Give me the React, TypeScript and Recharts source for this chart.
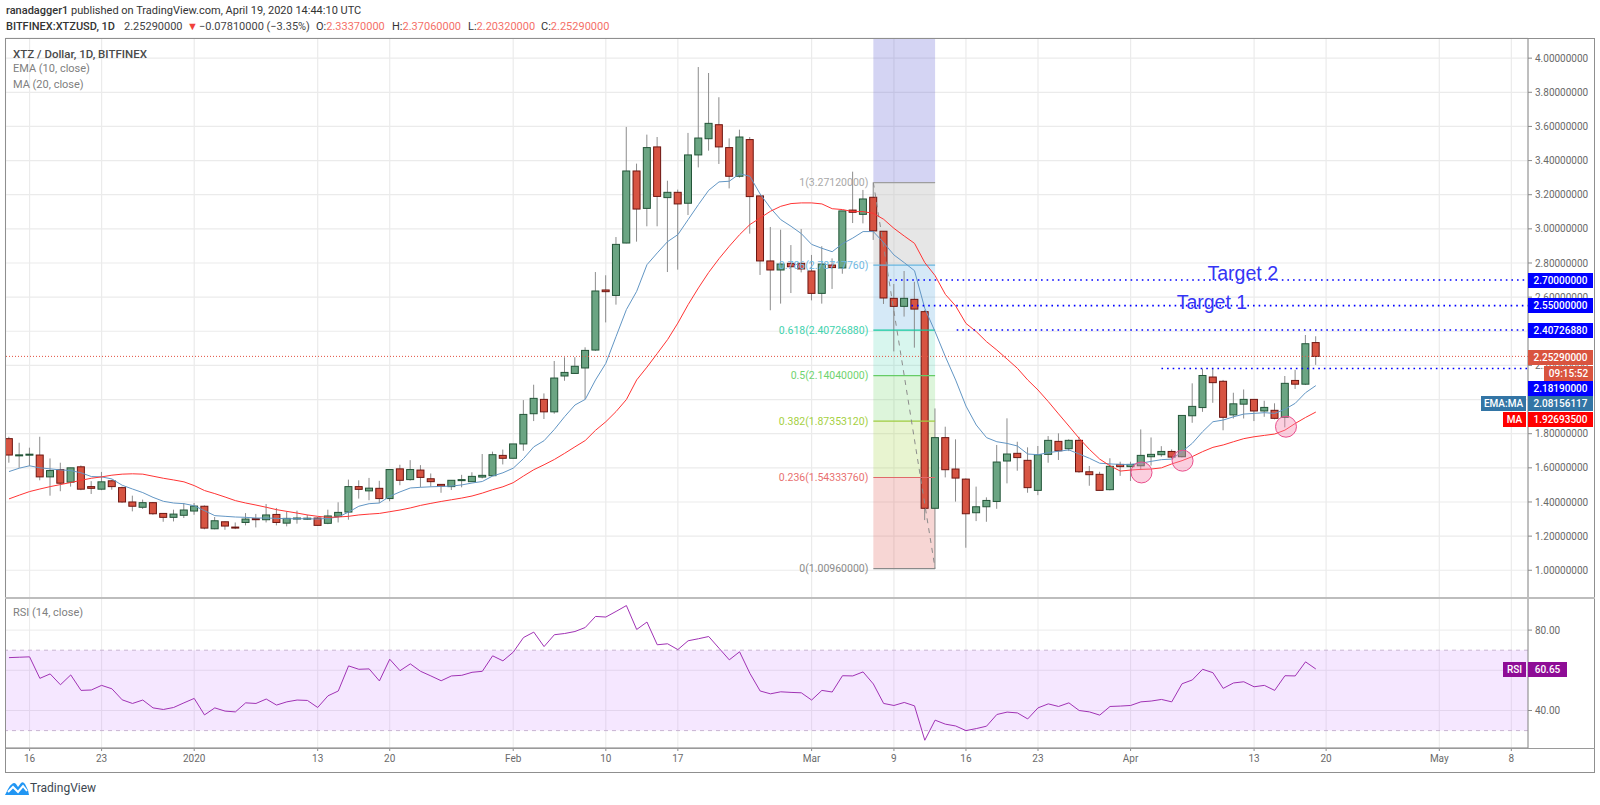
import {
  ComposedChart,
  Bar,
  Line,
  XAxis,
  YAxis,
  CartesianGrid,
  ReferenceArea,
  ReferenceLine,
  ReferenceDot,
} from "recharts";

// day 0 is Dec 16, 2019; one entry per daily candle starting on Dec 14
const FIRST_DAY = -2;
const opens = [
  1.771, 1.675, 1.676, 1.675, 1.547, 1.59, 1.516, 1.606, 1.49, 1.475, 1.524, 1.484, 1.4, 1.369, 1.396, 1.333,
  1.31, 1.322, 1.347, 1.375, 1.243, 1.284, 1.253, 1.28, 1.302, 1.296, 1.327, 1.276, 1.302, 1.304, 1.306, 1.275,
  1.316, 1.341, 1.49, 1.465, 1.48, 1.42, 1.594, 1.531, 1.587, 1.536, 1.503, 1.49, 1.525, 1.519, 1.546, 1.554,
  1.673, 1.656, 1.74, 1.917, 2.001, 1.928, 2.138, 2.153, 2.185, 2.29, 2.642, 2.61, 2.917, 3.339, 3.12, 3.48,
  3.183, 3.214, 3.15, 3.433, 3.528, 3.61, 3.476, 3.308, 3.523, 3.193, 2.812, 2.759, 2.798, 2.798, 2.753, 2.622,
  2.788, 2.771, 3.11, 3.085, 3.185, 2.986, 2.593, 2.546, 2.587, 2.515, 1.363, 1.777, 1.593, 1.534, 1.337, 1.372,
  1.403, 1.64, 1.685, 1.644, 1.468, 1.679, 1.755, 1.712, 1.761, 1.577, 1.562, 1.472, 1.62, 1.607, 1.612, 1.665,
  1.677, 1.696, 1.665, 1.905, 1.953, 2.132, 2.107, 1.91, 1.973, 2.001, 1.933, 1.937, 1.896, 2.112, 2.09, 2.3337,
];
const highs = [
  1.782, 1.747, 1.718, 1.782, 1.655, 1.63, 1.6, 1.614, 1.522, 1.576, 1.53, 1.49, 1.437, 1.414, 1.4, 1.335,
  1.355, 1.394, 1.394, 1.38, 1.312, 1.286, 1.28, 1.335, 1.33, 1.388, 1.365, 1.345, 1.349, 1.325, 1.31, 1.355,
  1.398, 1.531, 1.527, 1.541, 1.524, 1.59, 1.618, 1.645, 1.616, 1.567, 1.505, 1.527, 1.559, 1.574, 1.681, 1.695,
  1.707, 1.74, 1.997, 2.087, 2.036, 2.226, 2.248, 2.248, 2.306, 2.747, 2.728, 2.952, 3.597, 3.382, 3.552, 3.538,
  3.282, 3.23, 3.562, 3.948, 3.913, 3.771, 3.53, 3.581, 3.538, 3.193, 3.011, 2.995, 2.905, 2.999, 2.847, 2.898,
  2.827, 3.105, 3.335, 3.228, 3.2712, 2.986, 2.677, 2.753, 2.69, 2.525, 1.948, 1.841, 1.767, 1.538, 1.49, 1.427,
  1.734, 1.89, 1.753, 1.72, 1.728, 1.786, 1.802, 1.767, 1.782, 1.611, 1.577, 1.656, 1.636, 1.636, 1.825, 1.778,
  1.727, 1.708, 1.907, 2.095, 2.18, 2.18, 2.115, 2.04, 2.059, 2.001, 1.993, 1.978, 2.138, 2.174, 2.378, 2.3706,
];
const lows = [
  1.63, 1.6, 1.61, 1.527, 1.437, 1.463, 1.49, 1.469, 1.447, 1.469, 1.472, 1.395, 1.345, 1.359, 1.325, 1.284,
  1.286, 1.306, 1.325, 1.24, 1.24, 1.237, 1.241, 1.263, 1.251, 1.28, 1.263, 1.257, 1.273, 1.296, 1.262, 1.27,
  1.28, 1.296, 1.42, 1.41, 1.394, 1.404, 1.498, 1.525, 1.486, 1.49, 1.454, 1.47, 1.486, 1.519, 1.538, 1.552,
  1.62, 1.656, 1.7, 1.874, 1.886, 1.917, 2.11, 2.15, 2.001, 2.285, 2.452, 2.556, 2.915, 2.925, 3.015, 3.015,
  2.747, 2.761, 3.081, 3.36, 3.458, 3.38, 3.237, 3.3, 2.972, 2.73, 2.523, 2.562, 2.624, 2.745, 2.581, 2.562,
  2.648, 2.737, 3.034, 3.032, 2.935, 2.56, 2.282, 2.486, 2.304, 1.294, 1.0096, 1.544, 1.402, 1.132, 1.288, 1.284,
  1.36, 1.509, 1.583, 1.454, 1.44, 1.63, 1.646, 1.698, 1.571, 1.495, 1.468, 1.468, 1.553, 1.523, 1.587, 1.613,
  1.665, 1.654, 1.661, 1.864, 1.928, 1.981, 1.82, 1.889, 1.889, 1.874, 1.899, 1.884, 1.837, 2.062, 2.085, 2.2032,
];
const closes = [
  1.675, 1.676, 1.68, 1.547, 1.584, 1.51, 1.6, 1.475, 1.48, 1.518, 1.49, 1.4, 1.375, 1.396, 1.331, 1.31,
  1.329, 1.353, 1.376, 1.247, 1.29, 1.259, 1.252, 1.3, 1.298, 1.324, 1.28, 1.304, 1.306, 1.305, 1.263, 1.318,
  1.339, 1.49, 1.474, 1.481, 1.42, 1.59, 1.527, 1.59, 1.544, 1.519, 1.493, 1.527, 1.531, 1.55, 1.556, 1.677,
  1.656, 1.74, 1.913, 2.007, 1.928, 2.126, 2.159, 2.195, 2.288, 2.636, 2.632, 2.909, 3.339, 3.116, 3.476, 3.19,
  3.214, 3.146, 3.433, 3.532, 3.618, 3.48, 3.308, 3.538, 3.189, 2.812, 2.759, 2.794, 2.778, 2.765, 2.622, 2.794,
  2.773, 3.105, 3.097, 3.175, 2.988, 2.595, 2.546, 2.593, 2.53, 1.363, 1.777, 1.589, 1.54, 1.331, 1.372, 1.409,
  1.634, 1.681, 1.66, 1.484, 1.677, 1.761, 1.7, 1.761, 1.577, 1.56, 1.468, 1.609, 1.607, 1.62, 1.673, 1.679,
  1.696, 1.663, 1.907, 1.96, 2.141, 2.099, 1.896, 1.975, 2.001, 1.933, 1.954, 1.89, 2.095, 2.09, 2.327, 2.2529,
];
const ema10 = [
  1.578, 1.598, 1.612, 1.6, 1.594, 1.588, 1.584, 1.571, 1.549, 1.547, 1.535, 1.498, 1.476, 1.455, 1.427, 1.404,
  1.394, 1.39, 1.378, 1.349, 1.32, 1.316, 1.312, 1.31, 1.306, 1.306, 1.304, 1.302, 1.302, 1.302, 1.3, 1.304,
  1.312, 1.341, 1.375, 1.39, 1.394, 1.433, 1.459, 1.482, 1.486, 1.489, 1.491, 1.493, 1.5, 1.511, 1.52, 1.552,
  1.571, 1.598, 1.654, 1.723, 1.759, 1.825, 1.9, 1.968, 2.001, 2.115, 2.212, 2.37, 2.527, 2.634, 2.79, 2.859,
  2.925, 2.966, 3.054, 3.142, 3.226, 3.275, 3.279, 3.323, 3.308, 3.204, 3.122, 3.054, 3.015, 2.972, 2.909, 2.886,
  2.866, 2.913, 2.946, 2.984, 2.984, 2.919, 2.847, 2.802, 2.755, 2.534, 2.398, 2.251, 2.114, 1.962, 1.851, 1.777,
  1.753, 1.743, 1.728, 1.681, 1.677, 1.689, 1.697, 1.705, 1.681, 1.656, 1.627, 1.623, 1.62, 1.62, 1.627, 1.638,
  1.648, 1.651, 1.695, 1.744, 1.812, 1.87, 1.88, 1.899, 1.915, 1.919, 1.923, 1.919, 1.943, 1.978, 2.04, 2.0816,
];
const ma20 = [
  1.418, 1.44, 1.461, 1.476, 1.49, 1.502, 1.514, 1.527, 1.539, 1.547, 1.557, 1.563, 1.565, 1.563, 1.551, 1.539,
  1.529, 1.518, 1.496, 1.467, 1.449, 1.429, 1.408, 1.394, 1.382, 1.369, 1.355, 1.345, 1.335, 1.324, 1.316, 1.31,
  1.312, 1.316, 1.324, 1.329, 1.333, 1.343, 1.353, 1.365, 1.38, 1.392, 1.403, 1.413, 1.423, 1.435, 1.452, 1.472,
  1.489, 1.513, 1.552, 1.589, 1.618, 1.649, 1.685, 1.723, 1.76, 1.82, 1.87, 1.93, 2.0, 2.115, 2.19, 2.27,
  2.351, 2.448, 2.556, 2.654, 2.745, 2.825, 2.898, 2.966, 3.025, 3.064, 3.103, 3.132, 3.148, 3.152, 3.152, 3.146,
  3.118, 3.113, 3.101, 3.101, 3.091, 3.056, 3.003, 2.958, 2.915, 2.802, 2.726, 2.616, 2.548, 2.446, 2.398, 2.339,
  2.29, 2.237, 2.183, 2.115, 2.056, 1.988, 1.916, 1.845, 1.773, 1.708, 1.651, 1.612, 1.581, 1.587, 1.591, 1.593,
  1.6, 1.623, 1.642, 1.666, 1.695, 1.72, 1.734, 1.753, 1.771, 1.782, 1.79, 1.798, 1.821, 1.86, 1.895, 1.9269,
];
const rsi14 = [
  66.3, 66.5, 66.7, 56, 58.2, 52.8, 57.7, 50, 50.2, 52.5, 50.8, 45.3, 43.5, 45.2, 41.3, 40.5,
  41.5, 43.8, 46, 37.8, 41.3, 39.7, 39.3, 43.8, 43.5, 45.7, 42.7, 44.3, 45.2, 45, 41.5, 47.3,
  49.7, 62.2, 60.5, 60.7, 54.7, 65.5, 59.8, 63.2, 59.5, 57.2, 54.8, 57.2, 57.5, 59, 59.5, 67.2,
  64.7, 69, 76.3, 79, 71.8, 77.7, 78.3, 79.3, 81.3, 86.8, 86.5, 89.3, 92.2, 80.3, 84, 72.7,
  73.2, 70.3, 74.7, 75.7, 76.8, 71, 65.2, 69.2, 58.5, 49.7, 48.3, 49.3, 49, 48.8, 45.2, 50,
  49.2, 57.3, 57.2, 59.2, 53.2, 43.5, 42.5, 44, 42.3, 25.2, 35.2, 33.2, 32.3, 30, 31, 32.2,
  38, 39.2, 38.8, 35.8, 41.3, 43.3, 42, 43.8, 40, 39.3, 37.7, 42, 42.2, 42.5, 44.3, 44.7,
  45.5, 44.3, 53.3, 55.2, 60.5, 58.8, 51, 53.7, 54.3, 51.8, 52.5, 50, 57.3, 57.2, 64.2, 60.65,
];

const dateTicks = [0, 7, 16, 28, 35, 47, 56, 63, 76, 84, 91, 98, 107, 119, 126, 137, 144];
const dateLabels = ["16", "23", "2020", "13", "20", "Feb", "10", "17", "Mar", "9", "16", "23", "Apr", "13", "20", "May", "8"];
const priceTicks = [1, 1.2, 1.4, 1.6, 1.8, 2, 2.2, 2.4, 2.6, 2.8, 3, 3.2, 3.4, 3.6, 3.8, 4];
// these two sit fully behind a price tag in the original
const coveredPriceTicks = [2, 2.4];
const rsiTicks = [40, 60, 80];

const fibRatios = ["1", "0.786", "0.618", "0.5", "0.382", "0.236", "0"];
const fibPrices = [3.2712, 2.7871776, 2.4072688, 2.1404, 1.8735312, 1.5433376, 1.0096];
const fibLineColors = ["#9e9e9e", "#64b5e0", "#14c8a0", "#66cc66", "#a0cc40", "#e06a6a", "#8a8a8a"];
const fibTextColors = ["#a8a8a8", "#6fb8e2", "#3fd2ae", "#6fd36f", "#a5d03f", "#e87070", "#8a8a8a"];
const fibBandColors = [
  "rgba(200,200,200,0.45)",
  "rgba(100,175,225,0.27)",
  "rgba(60,210,170,0.2)",
  "rgba(100,210,90,0.22)",
  "rgba(170,215,80,0.27)",
  "rgba(225,90,85,0.25)",
];
const fibStartDay = 82;
const fibEndDay = 88;

const targetLevels = [2.7, 2.55, 2.4072688, 2.1819];
const targetStartDays = [83.6, 85.7, 90.1, 110];
const bounceDays = [108.06, 112.05, 122.1];
const bouncePrices = [1.573, 1.642, 1.841];

const LAST_PRICE = 2.2529;
const DAY_MIN = -2.34;
const DAY_MAX = 145.62;
const PRICE_MIN = 0.8375;
const PRICE_MAX = 4.118;
const RSI_MIN = 21.34;
const RSI_MAX = 95.97;

const rows = closes.map((close, i) => ({
  day: FIRST_DAY + i,
  open: opens[i],
  high: highs[i],
  low: lows[i],
  close,
  ema: ema10[i],
  ma: ma20[i],
  rsi: rsi14[i],
}));

const FONT = "Roboto, sans-serif";
const GRID = "#ebebeb";
const AXIS_TEXT = { fontSize: 10, fill: "#6a6a6a", fontFamily: FONT };

function Candle(props: any) {
  const { x, y, width, height, payload } = props;
  const { open, close, high, low } = payload;
  const top = Math.min(y, y + height);
  const perUnit = Math.abs(height) / (high - low);
  const up = close >= open;
  const bodyTop = top + (high - Math.max(open, close)) * perUnit;
  const bodyH = Math.max(Math.abs(open - close) * perUnit, 1);
  const mid = x + width / 2;
  return (
    <g>
      <line x1={mid} x2={mid} y1={top} y2={top + Math.abs(height)} stroke="#8c8c8c" strokeWidth={1} />
      <rect
        x={x + 0.5}
        y={bodyTop}
        width={width - 1}
        height={bodyH}
        fill={up ? "#6ba583" : "#d75442"}
        stroke={up ? "#225437" : "#6d1510"}
        strokeWidth={1}
      />
    </g>
  );
}

function Tag({ top, left, right, bg, text }: { top: number; left: number; right: number; bg: string; text: string }) {
  return (
    <div
      style={{
        position: "absolute",
        top,
        left,
        width: right - left,
        height: 15,
        lineHeight: "15px",
        background: bg,
        color: "#fff",
        fontFamily: FONT,
        fontSize: 10,
        fontWeight: 500,
        textAlign: "center",
      }}
    >
      {text}
    </div>
  );
}

function Txt({ x, y, color, size, weight, children }: any) {
  return (
    <div
      style={{
        position: "absolute",
        left: x,
        top: y,
        color,
        fontFamily: FONT,
        fontSize: size,
        fontWeight: weight ?? 400,
        lineHeight: "14px",
        whiteSpace: "pre",
      }}
    >
      {children}
    </div>
  );
}

function Edge({ left, top, width, height, color }: any) {
  return <div style={{ position: "absolute", left, top, width, height, background: color }} />;
}

export default function App() {
  return (
    <div style={{ position: "absolute", left: 0, top: 0, width: 1600, height: 805, background: "#fff", overflow: "hidden" }}>
      <Txt x={6} y={4} color="#333" size={11}>
        <span style={{ fontWeight: 500 }}>ranadagger1</span> published on TradingView.com, April 19, 2020 14:44:10 UTC
      </Txt>
      <Txt x={6} y={20} color="#333" size={11} weight={500}>BITFINEX:XTZUSD, 1D</Txt>
      <Txt x={124} y={20} color="#444" size={11}>2.25290000</Txt>
      <Txt x={187} y={20} color="#f0403a" size={11}>▼</Txt>
      <Txt x={199} y={20} color="#444" size={11}>−0.07810000 (−3.35%)</Txt>
      <Txt x={316} y={20} color="#333" size={11}>O:<span style={{ color: "#f47068" }}>2.33370000</span></Txt>
      <Txt x={392} y={20} color="#333" size={11}>H:<span style={{ color: "#f47068" }}>2.37060000</span></Txt>
      <Txt x={468} y={20} color="#333" size={11}>L:<span style={{ color: "#f47068" }}>2.20320000</span></Txt>
      <Txt x={541} y={20} color="#333" size={11}>C:<span style={{ color: "#f47068" }}>2.25290000</span></Txt>

      <div style={{ position: "absolute", left: 0, top: 0 }}>
        <ComposedChart width={1600} height={805} data={rows} margin={{ top: 38, right: 6, bottom: 207, left: 5.5 }}>
          <CartesianGrid stroke={GRID} strokeWidth={1.2} />
          <XAxis dataKey="day" type="number" domain={[DAY_MIN, DAY_MAX]} ticks={dateTicks} hide allowDataOverflow />
          <YAxis
            orientation="right"
            width={66}
            domain={[PRICE_MIN, PRICE_MAX]}
            ticks={priceTicks}
            tickFormatter={(v: number) => (coveredPriceTicks.includes(v) ? "" : v.toFixed(8))}
            tick={AXIS_TEXT}
            tickSize={4}
            tickMargin={3}
            stroke="#8a8a8a"
            allowDataOverflow
          />
          <ReferenceArea
            x1={fibStartDay}
            x2={fibEndDay}
            y1={fibPrices[0]}
            y2={PRICE_MAX}
            fill="rgba(95,95,210,0.27)"
            fillOpacity={1}
            stroke="none"
          />
          {fibBandColors.map((fill, i) => (
            <ReferenceArea
              key={fill}
              x1={fibStartDay}
              x2={fibEndDay}
              y1={fibPrices[i + 1]}
              y2={fibPrices[i]}
              fill={fill}
              fillOpacity={1}
              stroke="none"
            />
          ))}
          {fibPrices.map((price, i) => (
            <ReferenceLine
              key={price}
              segment={[{ x: fibStartDay, y: price }, { x: fibEndDay, y: price }]}
              stroke={fibLineColors[i]}
              strokeWidth={1.2}
            />
          ))}
          {fibPrices.map((price, i) => (
            <ReferenceDot
              key={price}
              x={fibStartDay}
              y={price}
              r={0}
              stroke="none"
              label={{
                value: `${fibRatios[i]}(${price.toFixed(8)})`,
                position: "left",
                fill: fibTextColors[i],
                fontSize: 10.5,
                fontFamily: FONT,
              }}
            />
          ))}
          <ReferenceLine
            segment={[{ x: fibStartDay, y: fibPrices[0] }, { x: fibEndDay, y: fibPrices[6] }]}
            stroke="#8c8c8c"
            strokeDasharray="5 5"
            strokeWidth={1}
          />
          <Bar
            dataKey={(d: any) => [d.low, d.high]}
            barSize={8}
            shape={Candle}
            isAnimationActive={false}
          />
          <Line dataKey="ema" type="linear" dot={false} stroke="#6296c4" strokeWidth={1} isAnimationActive={false} />
          <Line dataKey="ma" type="linear" dot={false} stroke="#ff3434" strokeWidth={1} isAnimationActive={false} />
          <ReferenceLine y={LAST_PRICE} stroke="#e2503f" strokeWidth={1} strokeDasharray="1 2" />
          {targetLevels.map((level, i) => (
            <ReferenceLine
              key={level}
              segment={[{ x: targetStartDays[i], y: level }, { x: DAY_MAX, y: level }]}
              stroke="#0000ff"
              strokeWidth={1.6}
              strokeDasharray="1.6 4"
            />
          ))}
          {bounceDays.map((day, i) => (
            <ReferenceDot
              key={day}
              x={day}
              y={bouncePrices[i]}
              r={10.5}
              fill="rgba(244,130,170,0.38)"
              stroke="#ea4f8c"
              strokeWidth={1}
            />
          ))}
          <ReferenceDot
            x={117.9}
            y={2.72}
            r={0}
            stroke="none"
            label={{ value: "Target 2", position: "top", offset: -3, fill: "#3535f5", fontSize: 19.5, fontFamily: "Liberation Sans" }}
          />
          <ReferenceDot
            x={114.9}
            y={2.55}
            r={0}
            stroke="none"
            label={{ value: "Target 1", position: "top", offset: -3, fill: "#3535f5", fontSize: 19.5, fontFamily: "Liberation Sans" }}
          />
        </ComposedChart>
      </div>

      <div style={{ position: "absolute", left: 0, top: 0 }}>
        <ComposedChart width={1600} height={805} data={rows} margin={{ top: 598, right: 6, bottom: 33, left: 5.5 }}>
          <CartesianGrid stroke={GRID} strokeWidth={1} />
          <XAxis
            dataKey="day"
            type="number"
            domain={[DAY_MIN, DAY_MAX]}
            ticks={dateTicks}
            tickFormatter={(v: number) => dateLabels[dateTicks.indexOf(v)]}
            tick={AXIS_TEXT}
            tickSize={3}
            tickMargin={4}
            height={24}
            stroke="#8a8a8a"
            interval={0}
            allowDataOverflow
          />
          <YAxis
            orientation="right"
            width={66}
            domain={[RSI_MIN, RSI_MAX]}
            ticks={rsiTicks}
            tickFormatter={(v: number) => v.toFixed(2)}
            tick={AXIS_TEXT}
            tickSize={4}
            tickMargin={3}
            stroke="#8a8a8a"
            allowDataOverflow
          />
          <ReferenceArea y1={30} y2={70} fill="rgba(180,70,255,0.13)" fillOpacity={1} stroke="none" />
          <ReferenceLine y={70} stroke="#c8b4d2" strokeDasharray="4 4" />
          <ReferenceLine y={30} stroke="#c8b4d2" strokeDasharray="4 4" />
          <Line dataKey="rsi" type="linear" dot={false} stroke="#a032b4" strokeWidth={1} isAnimationActive={false} />
        </ComposedChart>
      </div>

      <Edge left={5} top={38} width={1590} height={1} color="#8f8f8f" />
      <Edge left={5} top={38} width={1} height={734} color="#8f8f8f" />
      <Edge left={1594} top={38} width={1} height={734} color="#8f8f8f" />
      <Edge left={5} top={772} width={1590} height={1} color="#8f8f8f" />
      <Edge left={5} top={597} width={1590} height={2} color="#bdbdbd" />
      <Edge left={5} top={748} width={1590} height={1} color="#9a9a9a" />

      <Txt x={13} y={47} color="#4a4a4a" size={11.5} weight={500}>XTZ / Dollar, 1D, BITFINEX</Txt>
      <Txt x={13} y={62} color="#808080" size={11}>EMA (10, close)</Txt>
      <Txt x={13} y={78} color="#808080" size={11}>MA (20, close)</Txt>
      <Txt x={13} y={606} color="#808080" size={11}>RSI (14, close)</Txt>

      <Tag top={273} left={1528} right={1593} bg="#0000ff" text="2.70000000" />
      <Tag top={298} left={1528} right={1593} bg="#0000ff" text="2.55000000" />
      <Tag top={323} left={1528} right={1593} bg="#0000ff" text="2.40726880" />
      <Tag top={350} left={1528} right={1593} bg="#d9543f" text="2.25290000" />
      <Tag top={366} left={1544} right={1593} bg="#d9543f" text="09:15:52" />
      <Tag top={381} left={1528} right={1593} bg="#0000ff" text="2.18190000" />
      <Tag top={396} left={1528} right={1593} bg="#3375a5" text="2.08156117" />
      <Tag top={396} left={1481} right={1526} bg="#3375a5" text="EMA:MA" />
      <Tag top={412} left={1528} right={1593} bg="#ff0000" text="1.92693500" />
      <Tag top={412} left={1503} right={1526} bg="#ff0000" text="MA" />
      <Tag top={662} left={1528} right={1567} bg="#8e0d96" text="60.65" />
      <Tag top={662} left={1503} right={1526} bg="#8e0d96" text="RSI" />

      <svg style={{ position: "absolute", left: 5, top: 781 }} width={24} height={15} viewBox="0 0 24 15">
        <path d="M0 14 L3 8 Q5 4 7 3 Q9 1 11 3 L13 6 L16 2 Q18 0 20 3 L23 9 L24 14 Z" fill="#2196f3" />
        <path d="M3 11 L8 6 L13 11 L18 5 L22 10" fill="none" stroke="#fff" strokeWidth={2} />
      </svg>
      <Txt x={30} y={781} color="#3c4650" size={12}>TradingView</Txt>
    </div>
  );
}
